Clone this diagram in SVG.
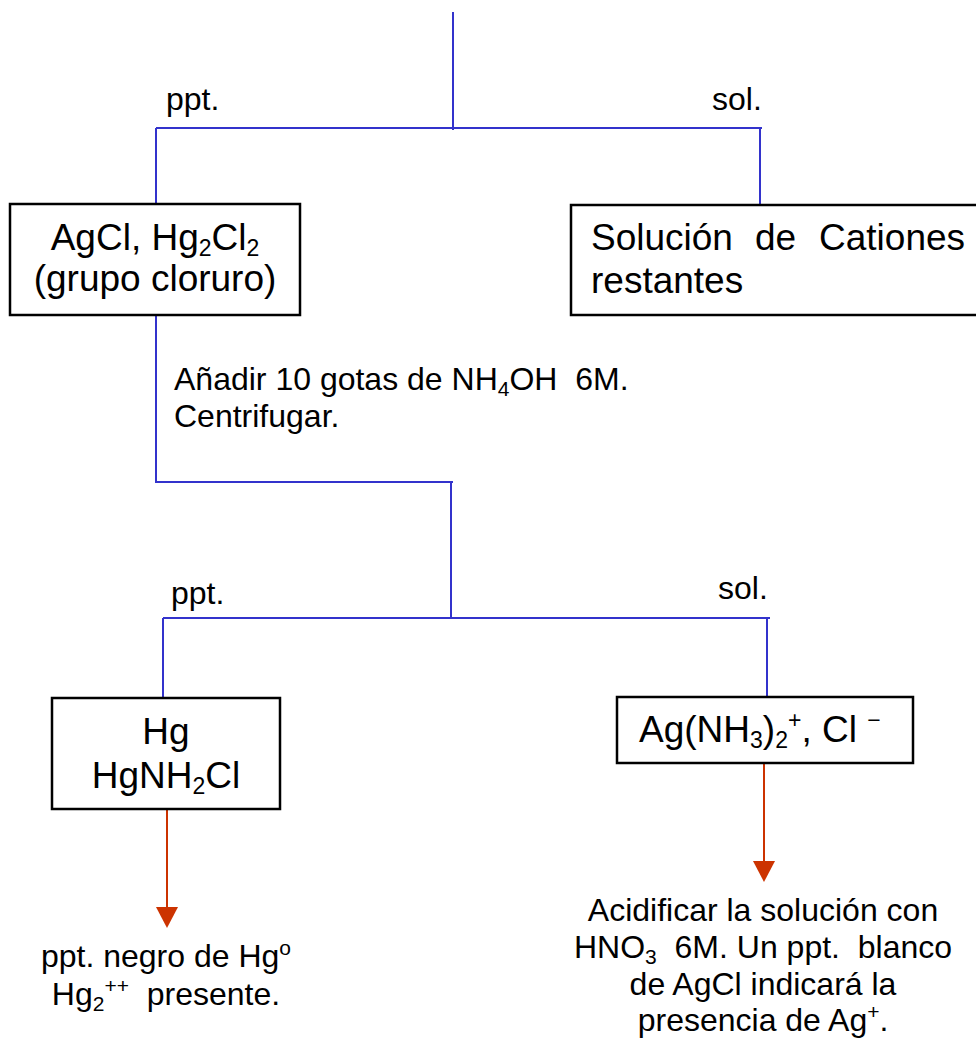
<svg xmlns="http://www.w3.org/2000/svg" width="976" height="1038" viewBox="0 0 976 1038">
<defs>
<style>
.t{font-family:"Liberation Sans",Arial,sans-serif;fill:#000;}
.s32{font-size:32px;}
.s36{font-size:37px;}
.box{fill:#fff;stroke:#000;stroke-width:2.5;}
.blue{stroke:#3333CC;stroke-width:2;fill:none;}
.red{stroke:#CC3300;stroke-width:2;fill:none;}
.ah{fill:#CC3300;}
</style>
</defs>
<rect width="976" height="1038" fill="#fff"/>
<g id="connectors">
<path class="blue" d="M453,12 V130"/>
<path class="blue" d="M156,128 H762"/>
<path class="blue" d="M156,128 V204"/>
<path class="blue" d="M760,128 V209"/>
<path class="blue" d="M156,315 V482 H453"/>
<path class="blue" d="M451,482 V618"/>
<path class="blue" d="M163,618 H770"/>
<path class="blue" d="M163,618 V699"/>
<path class="blue" d="M767,618 V702"/>
<path class="red" d="M167,810 V908"/>
<path class="ah" d="M156,907 L178,907 L167,928 Z"/>
<path class="red" d="M764,764 V862"/>
<path class="ah" d="M753,861 L775,861 L764,882 Z"/>
</g>
<g id="labels">
<text class="t s32" x="166" y="110">ppt.</text>
<text class="t s32" x="712" y="110">sol.</text>
<text class="t s32" x="174" y="390" xml:space="preserve">Añadir 10 gotas de NH<tspan font-size="21" dy="6">4</tspan><tspan dy="-6">OH  6M.</tspan></text>
<text class="t s32" x="174" y="427">Centrifugar.</text>
<text class="t s32" x="171" y="604">ppt.</text>
<text class="t s32" x="718" y="599">sol.</text>
</g>
<g id="node-cloruro">
<rect class="box" x="10" y="204" width="290" height="111"/>
<text class="t s36" x="155" y="250" text-anchor="middle">AgCl, Hg<tspan font-size="23" dy="6">2</tspan><tspan dy="-6">Cl</tspan><tspan font-size="23" dy="6">2</tspan></text>
<text class="t s36" x="155" y="291" text-anchor="middle">(grupo cloruro)</text>
</g>
<g id="node-solucion">
<rect class="box" x="571" y="205" width="420" height="110"/>
<text class="t s36" x="591" y="250">Solución</text>
<text class="t s36" x="755" y="250">de</text>
<text class="t s36" x="819" y="250">Cationes</text>
<text class="t s36" x="591" y="293">restantes</text>
</g>
<g id="node-hg">
<rect class="box" x="52" y="698" width="228" height="111"/>
<text class="t s36" x="166" y="744" text-anchor="middle">Hg</text>
<text class="t s36" x="166" y="788" text-anchor="middle">HgNH<tspan font-size="23" dy="6">2</tspan><tspan dy="-6">Cl</tspan></text>
</g>
<g id="node-ag">
<rect class="box" x="617" y="697" width="296" height="66"/>
<text class="t s36" x="639" y="742" xml:space="preserve">Ag(NH<tspan font-size="23" dy="6">3</tspan><tspan dy="-6">)</tspan><tspan font-size="23" dy="6">2</tspan><tspan font-size="23" dy="-20">+</tspan><tspan dy="14">, Cl </tspan><tspan font-size="23" dy="-14">−</tspan></text>
</g>
<g id="node-result-hg">
<text class="t s32" x="166" y="967" text-anchor="middle">ppt. negro de Hg<tspan font-size="21" dy="-12">o</tspan></text>
<text class="t s32" x="166" y="1005" text-anchor="middle" xml:space="preserve">Hg<tspan font-size="21" dy="6">2</tspan><tspan font-size="21" dy="-18">++</tspan><tspan dy="12">  presente.</tspan></text>
</g>
<g id="node-result-ag">
<text class="t s32" x="763" y="921" text-anchor="middle">Acidificar la solución con</text>
<text class="t s32" x="763" y="958" text-anchor="middle" xml:space="preserve">HNO<tspan font-size="21" dy="6">3</tspan><tspan dy="-6">  6M. Un ppt.  blanco</tspan></text>
<text class="t s32" x="763" y="995" text-anchor="middle">de AgCl indicará la</text>
<text class="t s32" x="763" y="1031" text-anchor="middle">presencia de Ag<tspan font-size="21" dy="-12">+</tspan><tspan dy="12">.</tspan></text>
</g>
</svg>
